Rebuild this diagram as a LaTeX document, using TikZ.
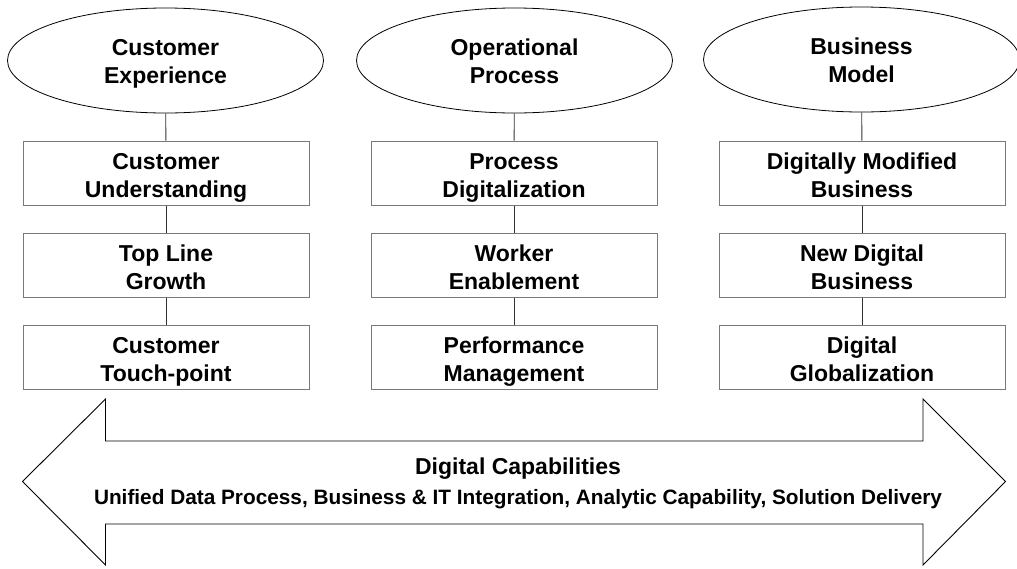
\documentclass[tikz,border=0pt]{standalone}
\usepackage{fontspec}
\setmainfont{Liberation Sans}
\usetikzlibrary{shapes.geometric}
\definecolor{boxblue}{HTML}{4F81BD}
% label font; a negative lineskip limit keeps the baseline distance fixed
\newcommand\labelfont{\bfseries\fontsize{23}{28}\selectfont\setlength{\lineskiplimit}{-30pt}}
% fixed line struts so that every two-line label sits at the same height
\newcommand\bxs{\vrule width0pt height26pt depth6pt\relax}
\newcommand\els{\vrule width0pt height23.5pt depth6pt\relax}
\begin{document}
\begin{tikzpicture}[x=1pt,y=-1pt,
  every node/.style={font=\labelfont, align=center},
  goal/.style={ellipse, draw=black, line width=0.8pt, minimum width=316pt, minimum height=105pt, inner sep=0pt},
  item/.style={rectangle, draw=boxblue, line width=1pt, minimum width=286pt, minimum height=64pt, inner sep=0pt},
  link/.style={draw=black!80, line width=0.9pt}]
\useasboundingbox (0,0) rectangle (1017,568);
% column headings
\node[goal] (e1) at (165.5,60.5) {\els Customer\\\els Experience};
\node[goal] (e2) at (514.5,60.5) {\els Operational\\\els Process};
\node[goal] (e3) at (861.5,59.5) {\els Business\\\els Model};
% left column
\node[item] (a1) at (166,173) {\bxs Customer\\\bxs Understanding};
\node[item] (a2) at (166,265) {\bxs Top Line\\\bxs Growth};
\node[item] (a3) at (166,357) {\bxs Customer\\\bxs Touch-point};
% middle column
\node[item] (b1) at (514,173) {\bxs Process\\\bxs Digitalization};
\node[item] (b2) at (514,265) {\bxs Worker\\\bxs Enablement};
\node[item] (b3) at (514,357) {\bxs Performance\\\bxs Management};
% right column
\node[item] (c1) at (862,173) {\bxs Digitally Modified\\\bxs Business};
\node[item] (c2) at (862,265) {\bxs New Digital\\\bxs Business};
\node[item] (c3) at (862,357) {\bxs Digital\\\bxs Globalization};
% connectors
\draw[link] (e1) -- (a1); \draw[link] (a1) -- (a2); \draw[link] (a2) -- (a3);
\draw[link] (e2) -- (b1); \draw[link] (b1) -- (b2); \draw[link] (b2) -- (b3);
\draw[link] (e3) -- (c1); \draw[link] (c1) -- (c2); \draw[link] (c2) -- (c3);
% double-headed capability arrow
\draw[black, line width=0.9pt, fill=white]
  (22.5,481.5) -- (105.5,399) -- (105.5,441) -- (923,441) -- (923,399)
  -- (1005.5,481.5) -- (923,565) -- (923,524) -- (105.5,524) -- (105.5,565) -- cycle;
\node (cap) at (518,469) {Digital Capabilities};
\node[font=\bfseries\fontsize{20.8}{24}\selectfont] (capl) at (518,499)
  {Unified Data Process, Business \& IT Integration, Analytic Capability, Solution Delivery};
\end{tikzpicture}
\end{document}
